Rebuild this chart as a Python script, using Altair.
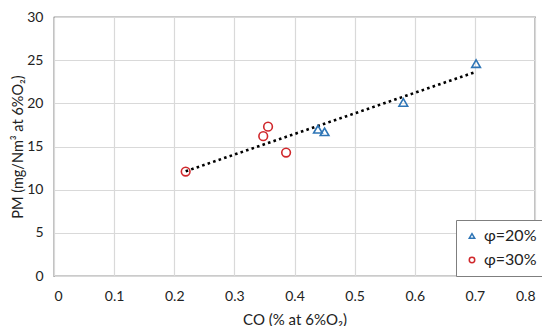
import altair as alt
import pandas as pd

co_20 = [0.439, 0.450, 0.581, 0.702]
pm_20 = [17.0, 16.7, 20.1, 24.6]
co_30 = [0.219, 0.348, 0.356, 0.386]
pm_30 = [12.1, 16.2, 17.3, 14.3]
series = ["φ=20%", "φ=30%"]
x_ticks = [0, 0.1, 0.2, 0.3, 0.4, 0.5, 0.6, 0.7, 0.8]
y_ticks = [0, 5, 10, 15, 20, 25, 30]

df = pd.DataFrame({
    "co": co_20 + co_30,
    "pm": pm_20 + pm_30,
    "series": [series[0]] * len(co_20) + [series[1]] * len(co_30),
})

FONT = "Lato"
x = alt.X("co:Q", scale=alt.Scale(domain=[0, 0.8], nice=False),
          axis=alt.Axis(values=x_ticks, title="CO (% at 6%O₂)", format="~g",
                        labelPadding=13, titlePadding=9, ticks=False, domain=False))
y = alt.Y("pm:Q", scale=alt.Scale(domain=[0, 30], nice=False),
          axis=alt.Axis(values=y_ticks, title="PM (mg/Nm³ at 6%O₂)",
                        labelPadding=11, titlePadding=1, titleFontSize=14.5,
                        ticks=False, domain=False))

points = alt.Chart(df).mark_point(filled=False, strokeWidth=1.6, size=75, opacity=1).encode(
    x=x, y=y,
    color=alt.Color("series:N", scale=alt.Scale(domain=series, range=["#2E75B6", "#D0282C"]),
                    legend=alt.Legend(title=None, orient="none", legendX=402, legendY=203,
                                      strokeColor="#7f7f7f", fillColor="white", padding=8,
                                      symbolSize=30, labelFontSize=16, labelFont=FONT,
                                      labelColor="#222", rowPadding=8, symbolStrokeWidth=1.5)),
    shape=alt.Shape("series:N", scale=alt.Scale(domain=series, range=["triangle-up", "circle"]),
                    legend=None),
)

trend = alt.Chart(df).transform_regression("co", "pm").mark_line(
    color="black", strokeWidth=2.6, strokeDash=[2.6, 3.2]
).encode(x="co:Q", y="pm:Q")

chart = (trend + points).properties(
    width=481, height=259,
    autosize=alt.AutoSizeParams(type="none"),
    padding={"left": 46, "top": 9, "right": 7, "bottom": 50},
).configure_view(stroke="#333333", strokeWidth=1.2).configure_axis(
    gridColor="#D9D9D9", gridWidth=1.2, labelFont=FONT, titleFont=FONT,
    labelFontSize=14, titleFontSize=15, labelColor="#222", titleColor="#222",
    titleFontWeight="normal",
)

chart.save("out.html", embed_options={"renderer": "svg", "actions": False})
